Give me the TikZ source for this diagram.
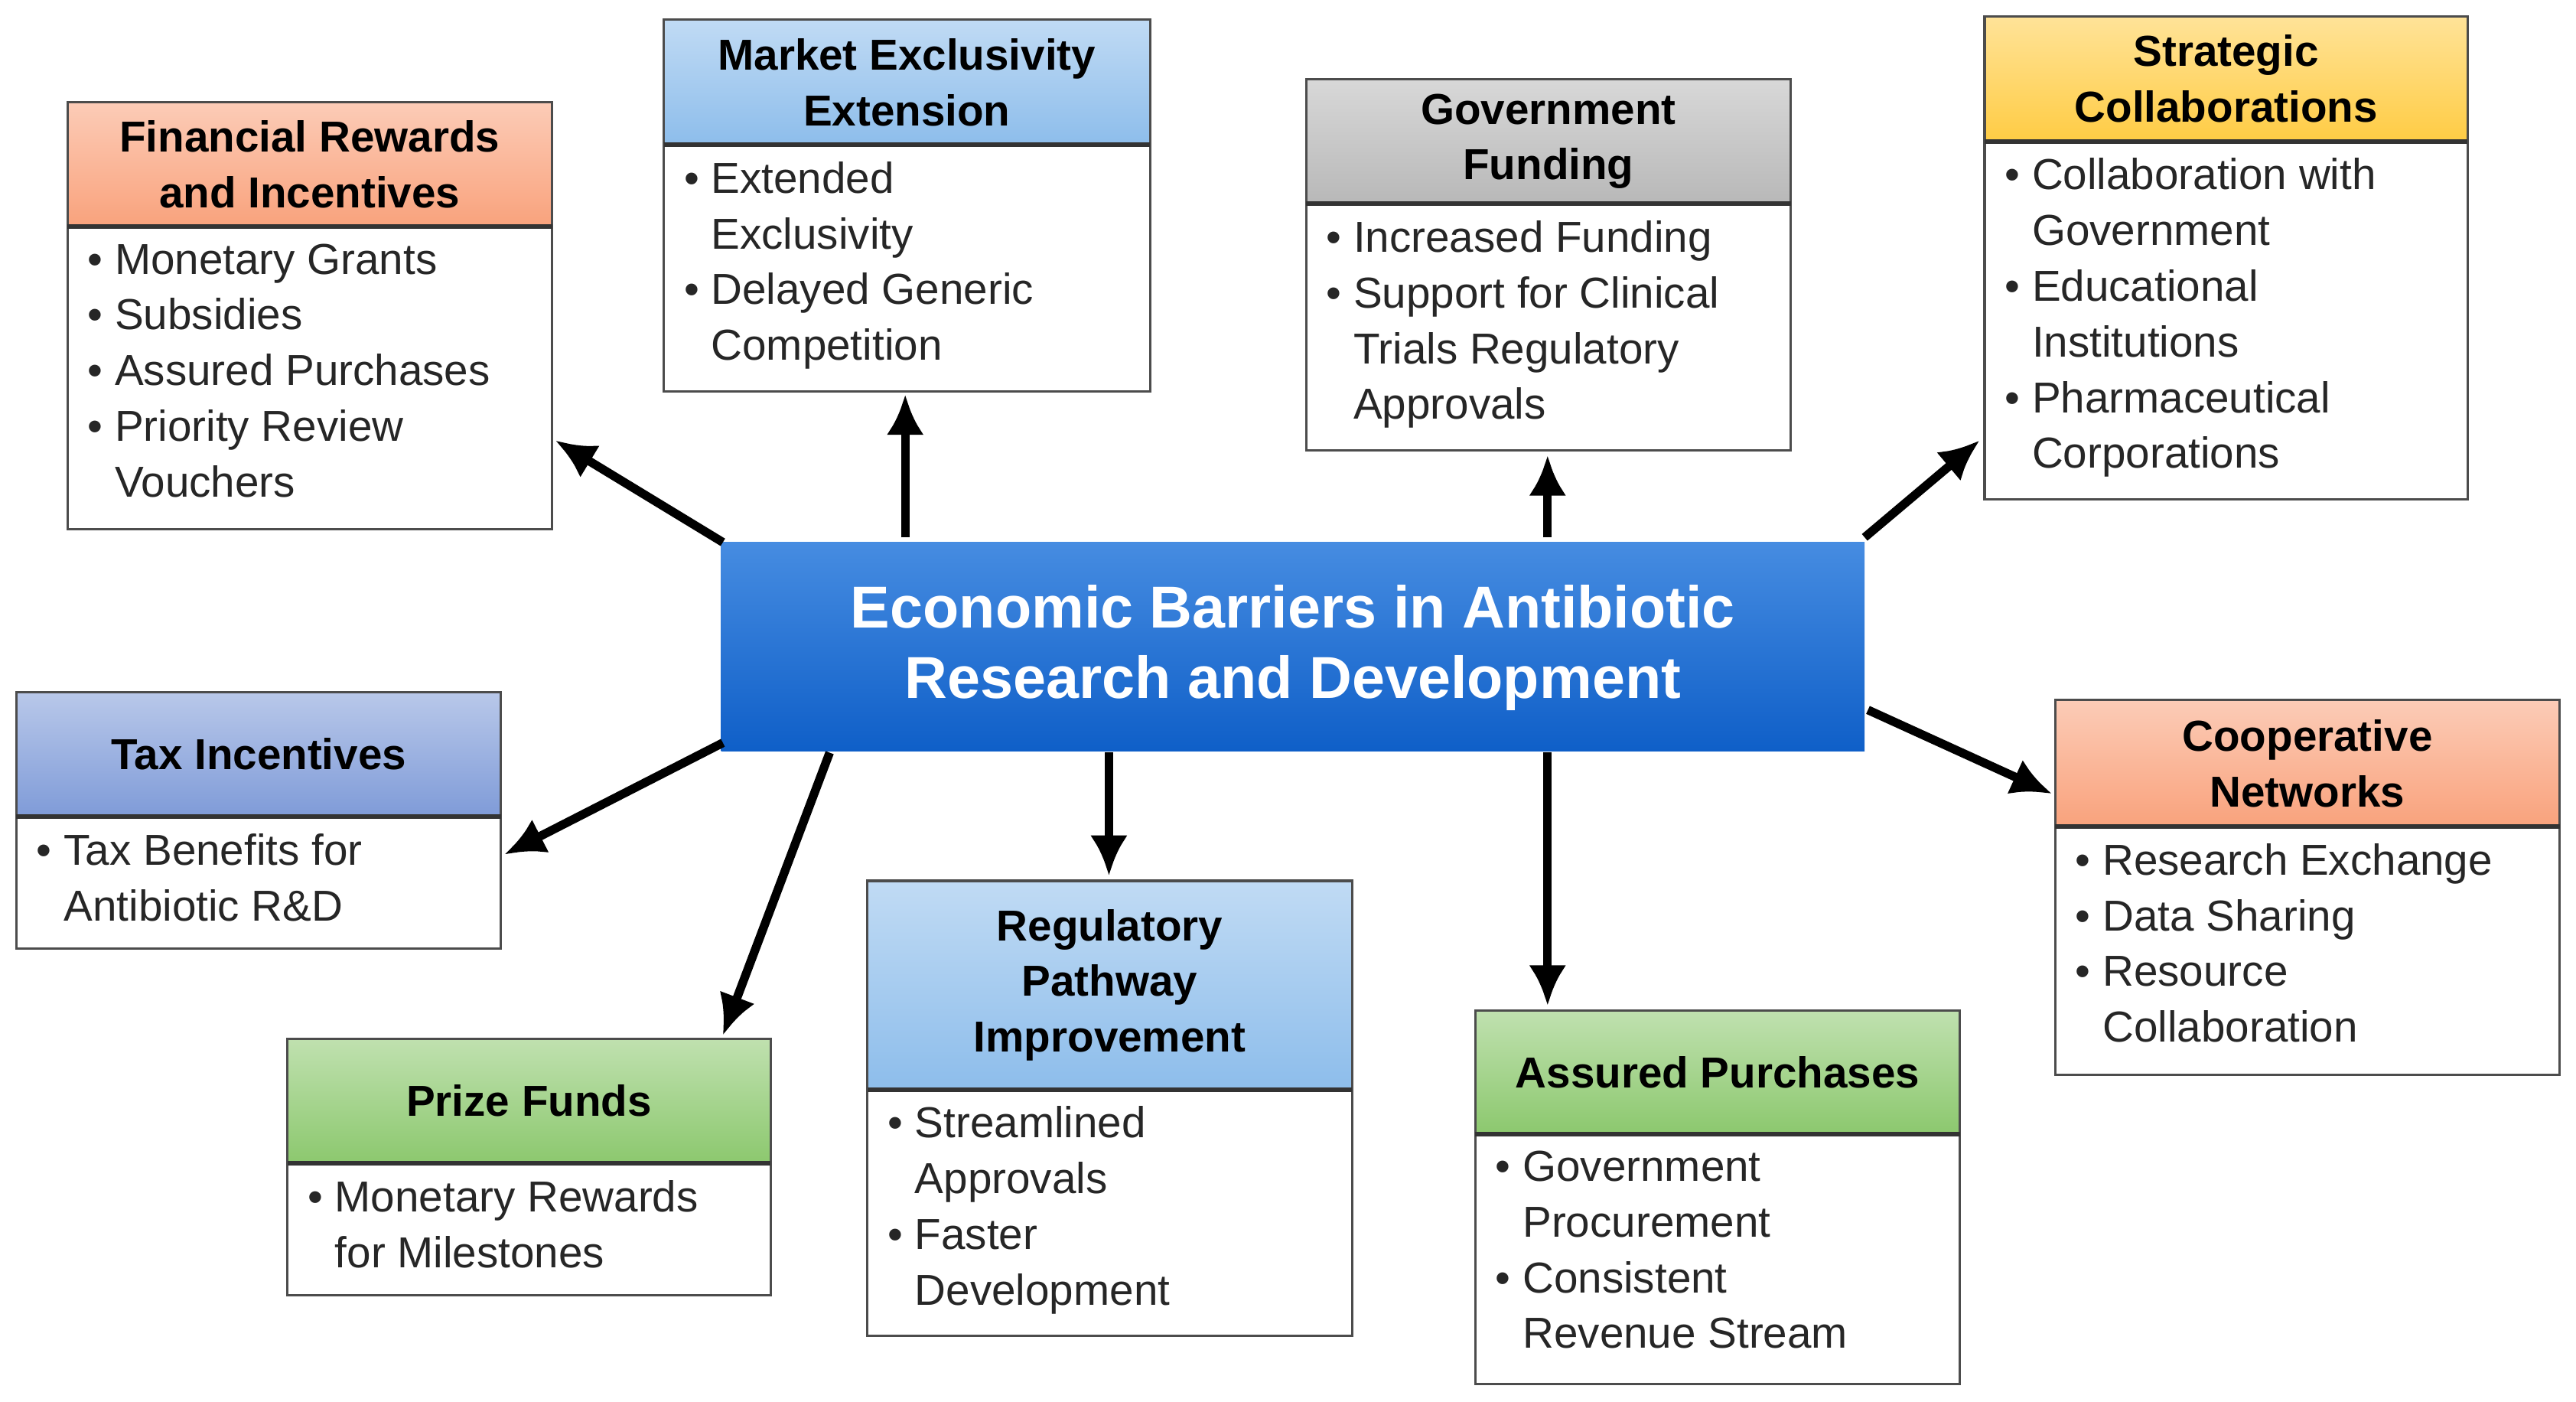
\documentclass[tikz,border=0pt]{standalone}
\usepackage{fontspec}
\setmainfont{Liberation Sans}
\usetikzlibrary{arrows.meta}
\begin{document}
\newcommand\Bu{\textbullet\ }
\newcommand\Cu{\hphantom{\textbullet\ }}
\begin{tikzpicture}[x=0.02cm,y=-0.02cm,
 frame/.style={draw=black,line width=0.8pt,fill=white},
 sep/.style={draw=black!80,line width=1.6pt},
 ttl/.style={font=\fontsize{15}{19.3}\selectfont\bfseries,align=center,text=black},
 body/.style={font=\fontsize{15}{19.3}\selectfont,align=left,text=black!85,anchor=north west,inner sep=0pt},
 arr/.style={line width=3pt,-{Latex[length=14pt,width=13pt]}}]
\useasboundingbox (0,0) rectangle (1568,853);
\newcommand\mybox[9]{%
 \draw[frame] (#2,#3) rectangle (#5,#6);
 \shade[top color=#7!55,bottom color=#7] (#2,#3) rectangle (#5,#4);
 \draw[black!70,line width=0.8pt] (#2,#3) rectangle (#5,#6);
 \draw[sep] (#2,#4)--(#5,#4);
 \node[ttl] (#1) at ({(#2+#5)/2},{(#3+#4)/2}) {#8};
 \node[body] (#1b) at ({#2+12},{#4+10}) {#9};}
\definecolor{sal}{HTML}{F9A27C}
\definecolor{lb}{HTML}{8DBDEB}
\definecolor{gr}{HTML}{B8B8B8}
\definecolor{ye}{HTML}{FFCC44}
\definecolor{pu}{HTML}{7F9BD8}
\definecolor{gn}{HTML}{8CC86E}
\mybox{fin}{41}{62}{138}{336}{322}{sal}{Financial Rewards\\and Incentives}{\Bu Monetary Grants\\\Bu Subsidies\\\Bu Assured Purchases\\\Bu Priority Review\\\Cu Vouchers}
\mybox{mkt}{404}{12}{88}{700}{238}{lb}{Market Exclusivity\\Extension}{\Bu Extended\\\Cu Exclusivity\\\Bu Delayed Generic\\\Cu Competition}
\mybox{gov}{795}{48}{124}{1090}{274}{gr}{Government\\Funding}{\Bu Increased Funding\\\Bu Support for Clinical\\\Cu Trials Regulatory\\\Cu Approvals}
\mybox{str}{1208}{10}{86}{1502}{304}{ye}{Strategic\\Collaborations}{\Bu Collaboration with\\\Cu Government\\\Bu Educational\\\Cu Institutions\\\Bu Pharmaceutical\\\Cu Corporations}
\mybox{tax}{10}{421}{497}{305}{577}{pu}{Tax Incentives}{\Bu Tax Benefits for\\\Cu Antibiotic R\&D}
\mybox{pri}{175}{632}{708}{469}{788}{gn}{Prize Funds}{\Bu Monetary Rewards\\\Cu for Milestones}
\mybox{reg}{528}{536}{663}{823}{813}{lb}{Regulatory\\Pathway\\Improvement}{\Bu Streamlined\\\Cu Approvals\\\Bu Faster\\\Cu Development}
\mybox{ass}{898}{615}{690}{1193}{842}{gn}{Assured Purchases}{\Bu Government\\\Cu Procurement\\\Bu Consistent\\\Cu Revenue Stream}
\mybox{coo}{1251}{426}{503}{1558}{654}{sal}{Cooperative\\Networks}{\Bu Research Exchange\\\Bu Data Sharing\\\Bu Resource\\\Cu Collaboration}
\shade[top color={rgb,255:red,70;green,140;blue,225},bottom color={rgb,255:red,15;green,95;blue,200}] (439,330) rectangle (1135,457);
\node[font=\fontsize{20.5}{24.4}\selectfont\bfseries,text=white,align=center] (ctr) at (787,394) {Economic Barriers in Antibiotic\\Research and Development};
\coordinate (a1) at (440,330); \coordinate (b1) at (338,268);
\coordinate (a2) at (551,327); \coordinate (b2) at (551,240);
\coordinate (a3) at (942,327); \coordinate (b3) at (942,277);
\coordinate (a4) at (1135,327); \coordinate (b4) at (1205,268);
\coordinate (a5) at (440,452); \coordinate (b5) at (307,520);
\coordinate (a6) at (505,458); \coordinate (b6) at (440,630);
\coordinate (a7) at (675,458); \coordinate (b7) at (675,533);
\coordinate (a8) at (942,458); \coordinate (b8) at (942,612);
\coordinate (a9) at (1137,432); \coordinate (b9) at (1249,483);
\foreach \i in {1,...,9} \draw[arr] (a\i) -- (b\i);
\end{tikzpicture}
\end{document}
